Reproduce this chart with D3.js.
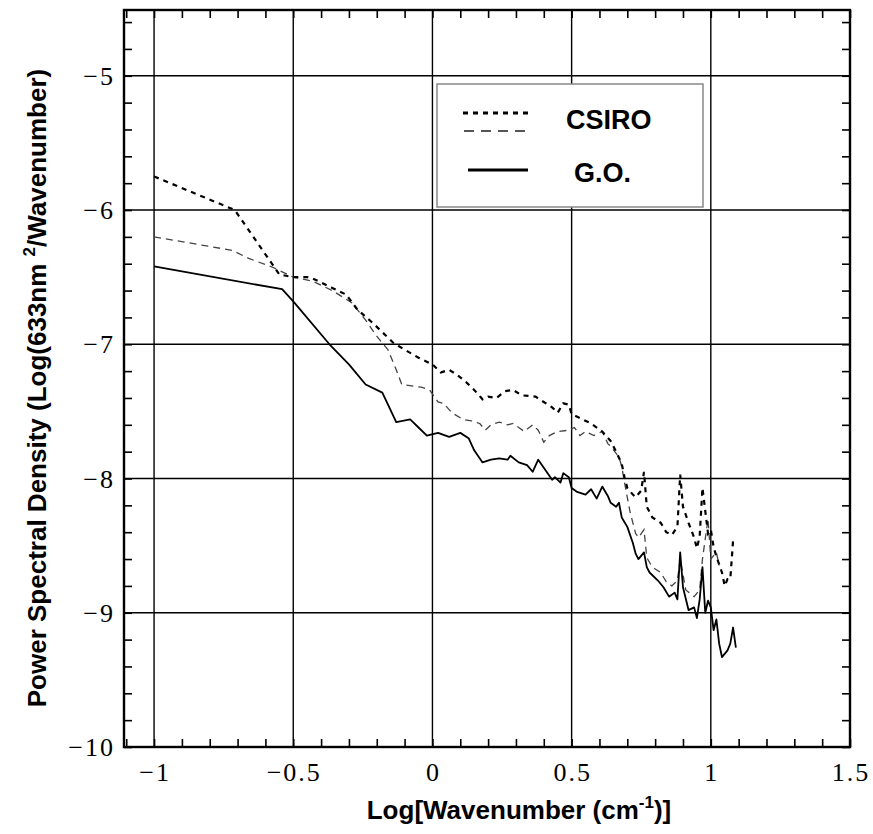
<!DOCTYPE html>
<html>
<head>
<meta charset="utf-8">
<script src="https://cdn.jsdelivr.net/npm/d3@7.9.0/dist/d3.min.js"></script>
<style>
  body { margin: 0; background: #fff; }
  svg { display: block; }
  .tick-label { font-family: "Liberation Serif", "Times New Roman", serif; font-size: 26px; letter-spacing: 2px; }
  .title { font-family: "Liberation Sans", Arial, sans-serif; font-weight: bold; font-size: 26px; }
  .legend-text { font-family: "Liberation Sans", Arial, sans-serif; font-weight: bold; font-size: 27px; }
</style>
</head>
<body>
<svg width="873" height="834"></svg>
<script>
// tick values
const xMajor = [-1, -0.5, 0, 0.5, 1, 1.5];
const yMajor = [-10, -9, -8, -7, -6, -5];

// CSIRO, first scan (heavy short dashes)
const csiroA = [
  [-1.0,-5.75],[-0.71,-6.0],[-0.55,-6.48],[-0.5,-6.5],[-0.45,-6.5],[-0.43,-6.51],[-0.36,-6.58],
  [-0.31,-6.63],[-0.27,-6.74],[-0.21,-6.85],[-0.14,-6.99],[-0.1,-7.04],[-0.05,-7.1],[0.0,-7.15],
  [0.03,-7.21],[0.06,-7.19],[0.09,-7.23],[0.12,-7.28],[0.15,-7.34],[0.18,-7.41],[0.2,-7.39],
  [0.23,-7.4],[0.26,-7.35],[0.29,-7.34],[0.32,-7.38],[0.37,-7.39],[0.4,-7.43],[0.43,-7.47],
  [0.45,-7.51],[0.47,-7.44],[0.49,-7.45],[0.5,-7.52],[0.53,-7.55],[0.57,-7.59],[0.61,-7.65],
  [0.64,-7.72],[0.66,-7.8],[0.68,-7.89],[0.69,-7.99],[0.7,-8.07],[0.72,-8.12],[0.73,-8.14],
  [0.75,-8.09],[0.76,-7.95],[0.77,-8.21],[0.79,-8.29],[0.82,-8.33],[0.84,-8.4],[0.86,-8.42],
  [0.88,-8.36],[0.89,-7.97],[0.9,-8.21],[0.92,-8.33],[0.94,-8.44],[0.95,-8.52],[0.96,-8.43],
  [0.97,-8.07],[0.99,-8.41],[1.0,-8.38],[1.01,-8.51],[1.02,-8.58],[1.04,-8.7],[1.05,-8.8],
  [1.06,-8.75],[1.07,-8.75],[1.08,-8.46]
];

// CSIRO, second scan (lighter dashes)
const csiroB = [
  [-1.0,-6.2],[-0.72,-6.3],[-0.66,-6.36],[-0.57,-6.43],[-0.5,-6.5],[-0.43,-6.53],[-0.36,-6.6],
  [-0.29,-6.69],[-0.24,-6.82],[-0.2,-6.94],[-0.16,-7.04],[-0.13,-7.19],[-0.11,-7.3],[-0.04,-7.32],
  [-0.01,-7.34],[0.02,-7.43],[0.04,-7.44],[0.07,-7.51],[0.11,-7.56],[0.14,-7.57],[0.17,-7.59],
  [0.19,-7.64],[0.21,-7.6],[0.24,-7.58],[0.27,-7.6],[0.29,-7.59],[0.31,-7.62],[0.33,-7.65],
  [0.36,-7.6],[0.38,-7.64],[0.4,-7.73],[0.42,-7.68],[0.45,-7.65],[0.49,-7.64],[0.51,-7.62],
  [0.53,-7.68],[0.55,-7.65],[0.58,-7.68],[0.61,-7.65],[0.63,-7.74],[0.64,-7.76],[0.67,-7.84],
  [0.68,-7.91],[0.69,-8.03],[0.7,-8.14],[0.71,-8.25],[0.72,-8.33],[0.73,-8.41],[0.74,-8.44],
  [0.76,-8.38],[0.77,-8.59],[0.79,-8.66],[0.82,-8.7],[0.84,-8.77],[0.86,-8.8],[0.88,-8.76],
  [0.89,-8.6],[0.91,-8.83],[0.94,-8.88],[0.96,-8.83],[0.97,-8.6],[0.99,-8.3],[1.0,-8.6],
  [1.02,-8.55],[1.03,-8.65]
];

// G.O. (solid)
const go = [
  [-1.0,-6.42],[-0.54,-6.59],[-0.5,-6.68],[-0.37,-7.0],[-0.3,-7.15],[-0.24,-7.3],[-0.18,-7.36],
  [-0.13,-7.58],[-0.08,-7.56],[-0.05,-7.62],[-0.02,-7.68],[0.02,-7.66],[0.06,-7.69],[0.1,-7.66],
  [0.13,-7.7],[0.15,-7.79],[0.18,-7.88],[0.21,-7.86],[0.24,-7.85],[0.27,-7.86],[0.28,-7.83],
  [0.31,-7.88],[0.34,-7.9],[0.36,-7.95],[0.38,-7.86],[0.4,-7.92],[0.43,-8.01],[0.44,-7.99],
  [0.46,-8.03],[0.47,-7.96],[0.49,-7.99],[0.5,-8.07],[0.52,-8.1],[0.55,-8.12],[0.57,-8.08],
  [0.59,-8.15],[0.61,-8.06],[0.63,-8.13],[0.64,-8.18],[0.66,-8.21],[0.67,-8.18],[0.68,-8.29],
  [0.7,-8.36],[0.72,-8.48],[0.73,-8.56],[0.74,-8.6],[0.76,-8.55],[0.77,-8.66],[0.78,-8.7],
  [0.81,-8.76],[0.83,-8.81],[0.85,-8.88],[0.87,-8.85],[0.88,-8.9],[0.89,-8.55],[0.9,-8.81],
  [0.92,-8.98],[0.94,-8.96],[0.95,-9.04],[0.96,-8.9],[0.97,-8.66],[0.98,-9.0],[0.99,-8.91],
  [1.0,-8.96],[1.01,-9.13],[1.02,-9.05],[1.03,-9.23],[1.04,-9.33],[1.06,-9.28],[1.07,-9.23],
  [1.08,-9.11],[1.09,-9.26]
];

const svg = d3.select('svg');
const plotL = 124, plotR = 850, plotT = 10, plotB = 747;

const x = d3.scaleLinear().domain([-1.108, 1.5]).range([plotL, plotR]);
const y = d3.scaleLinear().domain([-10, -4.51]).range([plotB, plotT]);

const fmt = (d) => (d < 0 ? '\u2212' + Math.abs(d) : String(d));

// minor ticks, drawn inward on all four sides
const xMinor = d3.range(-1.1, 1.501, 0.1).map((d) => +d.toFixed(1));
const yMinor = d3.range(-10, -4.49, 0.2).map((d) => +d.toFixed(1));

svg.append('g')
  .attr('transform', `translate(0,${plotB})`)
  .call(d3.axisBottom(x).tickValues(xMinor).tickSize(-8).tickFormat(''))
  .call((g) => g.select('.domain').remove());
svg.append('g')
  .attr('transform', `translate(0,${plotT})`)
  .call(d3.axisTop(x).tickValues(xMinor).tickSize(-8).tickFormat(''))
  .call((g) => g.select('.domain').remove());
svg.append('g')
  .attr('transform', `translate(${plotL},0)`)
  .call(d3.axisLeft(y).tickValues(yMinor).tickSize(-8).tickFormat(''))
  .call((g) => g.select('.domain').remove());
svg.append('g')
  .attr('transform', `translate(${plotR},0)`)
  .call(d3.axisRight(y).tickValues(yMinor).tickSize(-8).tickFormat(''))
  .call((g) => g.select('.domain').remove());
svg.selectAll('.tick line').attr('stroke', '#000').attr('stroke-width', 1.6);

// grid lines at the major values
const grid = svg.append('g').attr('stroke', '#000').attr('stroke-width', 1.4);
xMajor.filter((d) => d < 1.5).forEach((d) => {
  grid.append('line').attr('x1', x(d)).attr('x2', x(d)).attr('y1', plotT).attr('y2', plotB);
});
yMajor.filter((d) => d > -10).forEach((d) => {
  grid.append('line').attr('x1', plotL).attr('x2', plotR).attr('y1', y(d)).attr('y2', y(d));
});

// frame
svg.append('rect')
  .attr('x', plotL).attr('y', plotT)
  .attr('width', plotR - plotL).attr('height', plotB - plotT)
  .attr('fill', 'none').attr('stroke', '#000').attr('stroke-width', 2.4);

// tick labels
svg.append('g').selectAll('text').data(xMajor).join('text')
  .attr('class', 'tick-label')
  .attr('x', (d) => x(d) + 1)
  .attr('y', 781)
  .attr('text-anchor', 'middle')
  .text(fmt);
svg.append('g').selectAll('text').data(yMajor).join('text')
  .attr('class', 'tick-label')
  .attr('x', 115)
  .attr('y', (d) => y(d) + 9)
  .attr('text-anchor', 'end')
  .text(fmt);

// curves
const line = d3.line().x((d) => x(d[0])).y((d) => y(d[1]));
svg.append('path').datum(csiroB).attr('d', line)
  .attr('fill', 'none').attr('stroke', '#444').attr('stroke-width', 1.3)
  .attr('stroke-dasharray', '7,5');
svg.append('path').datum(csiroA).attr('d', line)
  .attr('fill', 'none').attr('stroke', '#000').attr('stroke-width', 2.2)
  .attr('stroke-dasharray', '5,5');
svg.append('path').datum(go).attr('d', line)
  .attr('fill', 'none').attr('stroke', '#000').attr('stroke-width', 1.8)
  .attr('stroke-linejoin', 'round');

// legend
const lg = svg.append('g');
lg.append('rect').attr('x', 437).attr('y', 84).attr('width', 266).attr('height', 123)
  .attr('fill', '#fff').attr('stroke', '#888').attr('stroke-width', 1.5);
lg.append('line').attr('x1', 463).attr('x2', 533).attr('y1', 113).attr('y2', 113)
  .attr('stroke', '#000').attr('stroke-width', 3).attr('stroke-dasharray', '5,5');
lg.append('line').attr('x1', 464).attr('x2', 532).attr('y1', 131).attr('y2', 131)
  .attr('stroke', '#555').attr('stroke-width', 2).attr('stroke-dasharray', '10,7');
lg.append('line').attr('x1', 468).attr('x2', 528).attr('y1', 170).attr('y2', 170)
  .attr('stroke', '#000').attr('stroke-width', 3.2);
lg.append('text').attr('class', 'legend-text').attr('x', 566).attr('y', 129).text('CSIRO');
lg.append('text').attr('class', 'legend-text').attr('x', 574).attr('y', 182).text('G.O.');

// axis titles
const xt = svg.append('text').attr('class', 'title')
  .attr('x', 519).attr('y', 819).attr('text-anchor', 'middle').attr('font-size', 27);
xt.append('tspan').text('Log[Wavenumber (cm');
xt.append('tspan').attr('dy', -11).attr('font-size', 17).text('-1');
xt.append('tspan').attr('dy', 11).text(')]');

const yt = svg.append('text').attr('class', 'title')
  .attr('transform', 'translate(46,388) rotate(-90)')
  .attr('text-anchor', 'middle');
yt.append('tspan').text('Power Spectral Density (Log(633nm ');
yt.append('tspan').attr('dy', -11).attr('font-size', 17).text('2');
yt.append('tspan').attr('dy', 11).text('/Wavenumber)');
</script>
</body>
</html>
